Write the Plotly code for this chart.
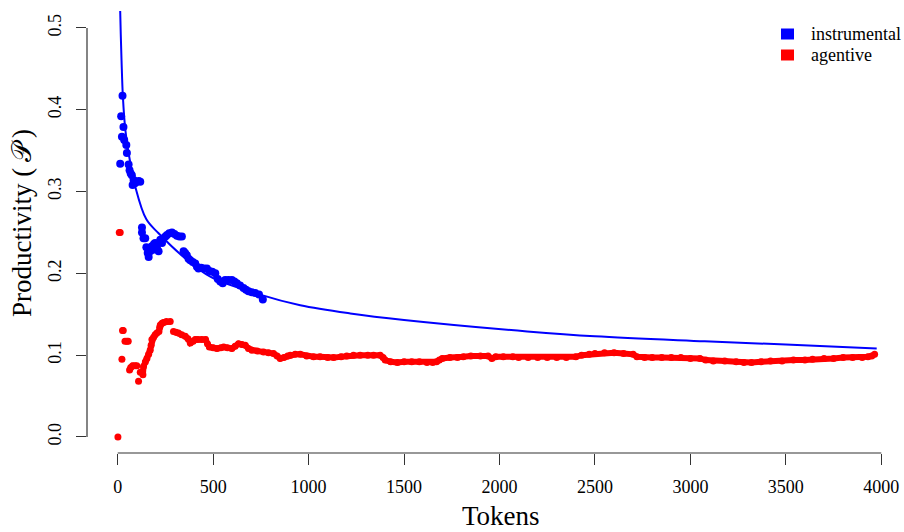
import plotly.graph_objects as go

# ---- data ----
curve_tokens = [10, 13, 20, 27, 40, 57, 92, 150, 214, 345, 485, 746, 956, 1218, 1500, 2145, 2500, 3075, 3500, 3976]
curve_values = [0.57, 0.52, 0.46, 0.416, 0.375, 0.347, 0.306, 0.266, 0.249, 0.220, 0.196, 0.174, 0.161, 0.151,
                0.143, 0.129, 0.123, 0.117, 0.113, 0.108]

instr_tokens = [13, 18, 22, 25, 30, 34, 45, 48, 57, 62, 68, 74, 78, 83, 90, 100, 110, 118, 127, 127, 135, 144,
                150, 157, 162, 170, 179, 185, 190, 196, 205, 214, 223, 232, 240, 250, 258, 270, 284, 297, 310,
                323, 336, 345, 353, 362, 371, 380, 393, 406, 415, 423, 437, 452, 467, 480, 495, 511, 524, 537,
                550, 563, 580, 598, 611, 624, 641, 659, 672, 685, 702, 720, 740, 760]
instr_values = [0.334, 0.392, 0.367, 0.417, 0.379, 0.363, 0.357, 0.347, 0.333, 0.326, 0.322, 0.320, 0.308, 0.314,
                0.310, 0.312, 0.313, 0.312, 0.256, 0.250, 0.243, 0.243, 0.232, 0.225, 0.220, 0.227, 0.233, 0.229,
                0.236, 0.237, 0.232, 0.227, 0.241, 0.237, 0.243, 0.245, 0.247, 0.249, 0.250, 0.248, 0.246, 0.245,
                0.245, 0.227, 0.225, 0.222, 0.218, 0.216, 0.214, 0.212, 0.208, 0.206, 0.207, 0.206, 0.206, 0.203,
                0.202, 0.200, 0.193, 0.190, 0.188, 0.192, 0.192, 0.192, 0.190, 0.188, 0.185, 0.182, 0.180, 0.178,
                0.177, 0.176, 0.174, 0.168]

# agentive: None separates runs that are not visually joined
agent_tokens = [1, None, 8, 13, None, 22, None, 25, 29, None, 38, 48, 55, None,
                62, 68, 78, 90, 100, None, 109, None, 118, None, 132,
                135, 145, 153, 162, 170, 175, 179, 188, 196, 205, 216, 220, 223, 232, 240, 255, 275, None,
                292, 305, 318, 335, 354, 368, 380, 395, 406, 420, 440, 460, 470, 480, 500, 520, 540, 555, 575,
                598, 615, 633, 650, 668, 685, 703, 730, 764, 790, 816, 835, 851, 870, 890, 904, 930, 956, 990,
                1026, 1060, 1100, 1131, 1170, 1200, 1235, 1270, 1310, 1340, 1375, 1390, 1401, 1430, 1465, 1500,
                1540, 1580, 1620, 1650, 1670, 1685, 1700, 1740, 1780, 1810, 1850, 1900, 1940, 1960, 1980, 2020,
                2070, 2100, 2150, 2200, 2250, 2300, 2350, 2400, 2430, 2470, 2500, 2550, 2600, 2650, 2700, 2720,
                2760, 2800, 2850, 2900, 2950, 3000, 3050, 3080, 3120, 3180, 3240, 3280, 3320, 3370, 3420, 3480,
                3540, 3600, 3640, 3700, 3750, 3800, 3850, 3900, 3930, 3950, 3965]
agent_values = [0.0, None, 0.25, 0.25, None, 0.095, None, 0.130, 0.130, None, 0.117, 0.117, 0.117, None,
                0.082, 0.085, 0.087, 0.087, 0.087, None, 0.068, None, 0.079, None, 0.076,
                0.086, 0.092, 0.096, 0.101, 0.106, 0.112, 0.119, 0.122, 0.125, 0.127, 0.129, 0.134, 0.137,
                0.139, 0.140, 0.141, 0.141, None,
                0.129, 0.128, 0.127, 0.125, 0.123, 0.120, 0.115, 0.117, 0.119, 0.119, 0.119, 0.119, 0.114,
                0.110, 0.109, 0.108, 0.109, 0.110, 0.109, 0.108, 0.111, 0.114, 0.113, 0.112, 0.108, 0.106,
                0.105, 0.104, 0.103, 0.102, 0.099, 0.096, 0.097, 0.099, 0.100, 0.101, 0.101, 0.099, 0.098,
                0.098, 0.097, 0.097, 0.098, 0.099, 0.100, 0.100, 0.100, 0.100, 0.100, 0.097, 0.094, 0.092,
                0.091, 0.092, 0.092, 0.092, 0.091, 0.091, 0.092, 0.094, 0.096, 0.097, 0.097, 0.098, 0.099,
                0.099, 0.099, 0.096, 0.098, 0.098, 0.098, 0.097, 0.097, 0.097, 0.097, 0.097, 0.097, 0.098,
                0.100, 0.101, 0.102, 0.103, 0.103, 0.102, 0.101, 0.098, 0.097, 0.097, 0.097, 0.097, 0.097,
                0.096, 0.096, 0.094, 0.093, 0.093, 0.092, 0.091, 0.091, 0.092, 0.093, 0.093, 0.094, 0.094,
                0.095, 0.096, 0.096, 0.097, 0.097, 0.097, 0.098, 0.099, 0.101]

x_ticks = [0, 500, 1000, 1500, 2000, 2500, 3000, 3500, 4000]
y_ticks = [0.0, 0.1, 0.2, 0.3, 0.4, 0.5]
y_tick_labels = ["0.0", "0.1", "0.2", "0.3", "0.4", "0.5"]
series_names = ["instrumental", "agentive"]

BLUE = "#0000FF"
RED = "#FF0000"
FONT = "Liberation Serif"
W, H = 904, 532
L, R, T, B = 87, 0, 11, 79
pw, ph = W - L - R, H - T - B


def px_x(p):
    return (p - L) / pw


def px_y(p):
    return (H - B - p) / ph


fig = go.Figure()
fig.add_trace(go.Scatter(x=curve_tokens, y=curve_values, mode="lines", line=dict(color=BLUE, width=2, shape="spline"),
                         showlegend=False, hoverinfo="skip"))
fig.add_trace(go.Scatter(x=instr_tokens, y=instr_values, mode="markers", marker=dict(color=BLUE, size=8),
                         name=series_names[0], showlegend=False))
fig.add_trace(go.Scatter(x=agent_tokens, y=agent_values, mode="lines+markers", connectgaps=False,
                         line=dict(color=RED, width=6), marker=dict(color=RED, size=7),
                         name=series_names[1], showlegend=False))

axis_col = "#333333"
fig.update_xaxes(range=[-161, 4119], tickvals=x_ticks, ticks="outside", ticklen=11, tickwidth=1,
                 tickcolor=axis_col, showline=False, showgrid=False, zeroline=False, automargin=False,
                 ticklabelstandoff=6, tickfont=dict(family=FONT, size=18, color="#000"))
fig.update_yaxes(range=[-0.0196, 0.5207], tickvals=y_ticks, ticktext=y_tick_labels, ticks="outside", ticklen=10,
                 tickwidth=1, tickcolor=axis_col, showline=False, showgrid=False, zeroline=False, tickangle=-90,
                 automargin=False, ticklabelstandoff=8, tickfont=dict(family=FONT, size=18, color="#000"))

# axis lines spanning only the tick range (base-graphics style)
fig.add_shape(type="line", xref="x", yref="paper", x0=0, x1=4000, y0=0, y1=0,
              line=dict(color=axis_col, width=1.2))
fig.add_shape(type="line", xref="paper", yref="y", x0=0, x1=0, y0=0, y1=0.5,
              line=dict(color=axis_col, width=1.2))

fig.add_annotation(text="Tokens", xref="paper", yref="paper", x=px_x(501), y=px_y(516),
                   showarrow=False, font=dict(family=FONT, size=27, color="#000"), xanchor="center", yanchor="middle")
fig.add_annotation(text="Productivity (\u2009𝒫\u2009)", xref="paper", yref="paper", x=px_x(22), y=px_y(223),
                   textangle=-90, showarrow=False, font=dict(family=FONT, size=27, color="#000"),
                   xanchor="center", yanchor="middle")

# legend (square keys + labels), placed top-right like the reference
legend_rows = [34, 55]
for name, col, cy in zip(series_names, [BLUE, RED], legend_rows):
    fig.add_shape(type="rect", xref="paper", yref="paper", x0=px_x(781), x1=px_x(794),
                  y0=px_y(cy + 5.5), y1=px_y(cy - 5.5), fillcolor=col, line=dict(width=0))
    fig.add_annotation(text=name, xref="paper", yref="paper", x=px_x(809), y=px_y(cy), xanchor="left",
                       yanchor="middle", showarrow=False, font=dict(family=FONT, size=18, color="#000"))

fig.update_layout(
    width=W, height=H, margin=dict(l=L, r=R, t=T, b=B, autoexpand=False),
    plot_bgcolor="white", paper_bgcolor="white", showlegend=False,
)

fig.write_html("out.html", config={"displayModeBar": False},
               post_script="document.body.style.margin='0';document.body.style.overflow='hidden';")
